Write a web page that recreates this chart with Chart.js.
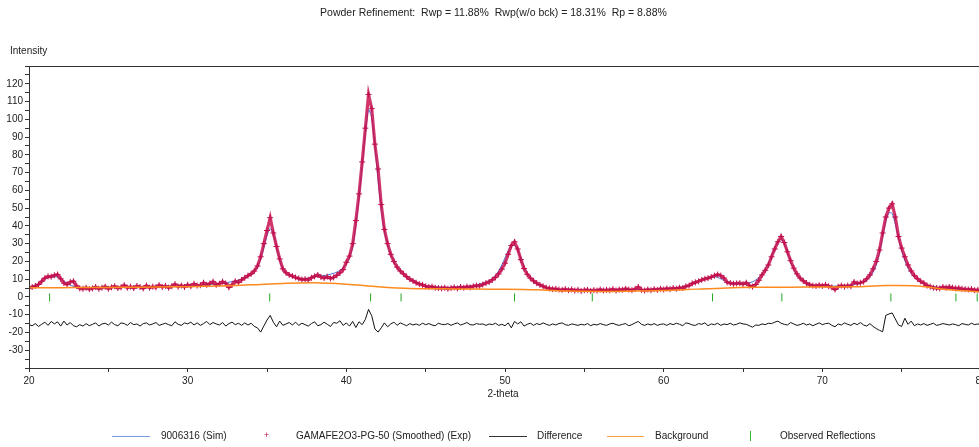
<!DOCTYPE html>
<html>
<head>
<meta charset="utf-8">
<script src="https://cdn.jsdelivr.net/npm/chart.js@4/dist/chart.umd.min.js"></script>
<style>
  html, body { margin: 0; padding: 0; background: #fff; overflow: hidden; }
  #wrap { position: relative; width: 979px; height: 447px; overflow: hidden; font-family: "Liberation Sans", Arial, sans-serif; color: #222; }
  #plot { position: absolute; left: 0; top: 0; }
  .txt { position: absolute; font-size: 10px; white-space: nowrap; line-height: 12px; }
  .leg-line { position: absolute; height: 0; border-top: 1.5px solid; }
</style>
</head>
<body>
<div id="wrap">
  <canvas id="plot" width="1000" height="447"></canvas>
  <div class="txt" id="title" style="left:0;width:987px;text-align:center;top:6px;font-size:10.5px">Powder Refinement:&nbsp; Rwp = 11.88%&nbsp; Rwp(w/o bck) = 18.31%&nbsp; Rp = 8.88%</div>
  <div class="txt" style="left:10px;top:45px">Intensity</div>
  <div class="txt" style="left:0;width:1006px;text-align:center;top:388px">2-theta</div>
  <div id="legend"></div>
</div>
<script>
// 2-theta sampling of the pattern (deg)
const thetaStart = 20, thetaStep = 0.2;

// observed (smoothed) intensities, 20.0 .. 80.0 every 0.2 deg
const expVals = [
  5.0, 5.6, 6.2, 7.0, 8.8, 10.6, 11.6, 11.4, 12.2, 12.6,
  10.2, 7.8, 7.0, 8.4, 8.8, 6.2, 4.8, 4.6, 5.2, 4.4,
  4.8, 5.6, 4.6, 5.2, 5.8, 4.6, 5.4, 6.0, 5.0, 5.4,
  6.6, 5.2, 5.8, 5.0, 6.2, 5.6, 4.8, 6.4, 5.2, 5.8,
  5.4, 6.6, 5.6, 6.2, 5.2, 6.0, 7.2, 5.8, 6.4, 5.6,
  6.8, 6.0, 7.4, 6.4, 6.6, 8.0, 6.8, 7.6, 8.6, 6.8,
  7.4, 8.6, 7.6, 5.4, 6.8, 8.8, 8.2, 9.6, 10.8, 12.0,
  13.0, 14.6, 17.4, 22.6, 30.0, 37.4, 44.6, 36.0, 28.4, 21.4,
  15.8, 13.6, 12.4, 11.8, 11.0, 10.4, 9.8, 10.0, 9.6, 10.8,
  11.6, 12.4, 11.2, 10.6, 11.4, 10.4, 11.0, 12.2, 13.6, 15.4,
  19.5, 23.0, 30.0, 43.0, 58.0, 76.0, 95.0, 114.0, 106.0, 86.0,
  72.0, 52.0, 38.0, 30.0, 24.0, 20.0, 16.8, 14.6, 13.0, 11.4,
  10.0, 9.0, 8.0, 7.2, 6.8, 6.0, 5.6, 5.8, 5.2, 5.0,
  4.8, 5.2, 4.6, 5.0, 5.4, 4.8, 5.6, 5.2, 5.8, 5.4,
  6.0, 6.4, 6.2, 7.0, 7.8, 8.4, 9.6, 11.0, 13.0, 15.6,
  19.0, 24.0, 29.0, 31.0, 27.0, 21.0, 16.0, 12.8, 10.6, 9.0,
  7.8, 6.8, 6.0, 5.2, 4.8, 4.4, 4.6, 4.2, 4.0, 4.4,
  3.8, 4.2, 3.6, 4.0, 3.4, 3.8, 4.0, 3.4, 3.8, 3.6,
  4.2, 3.6, 4.0, 3.8, 4.4, 3.6, 4.2, 4.0, 4.6, 4.2,
  3.8, 4.4, 5.6, 4.0, 3.6, 4.2, 3.8, 4.4, 4.0, 4.6,
  4.2, 4.8, 4.4, 5.0, 4.6, 5.2, 5.0, 6.0, 6.4, 7.6,
  8.2, 8.8, 9.6, 10.2, 10.6, 11.2, 12.0, 12.6, 12.0, 10.6,
  8.2, 7.8, 7.4, 7.6, 7.8, 7.2, 8.0, 6.4, 5.8, 7.0,
  9.4, 12.4, 15.0, 18.0, 22.6, 27.0, 31.0, 34.0, 30.6, 25.4,
  20.4, 16.2, 13.0, 10.6, 9.0, 7.8, 6.8, 6.4, 6.2, 6.6,
  6.2, 6.8, 6.0, 5.4, 4.2, 5.8, 6.4, 5.8, 6.4, 6.0,
  8.4, 7.6, 8.0, 8.6, 10.2, 12.4, 15.8, 20.0, 26.4, 36.0,
  45.0, 50.0, 52.4, 45.0, 34.0, 27.5, 22.6, 18.0, 14.6, 12.0,
  10.2, 8.8, 7.8, 6.4, 5.8, 5.2, 5.0, 4.8, 5.6, 5.2,
  5.6, 5.2, 4.8, 5.0, 4.6, 4.4, 4.2, 4.4, 3.8, 4.0,
  3.6
];

// calculated pattern (9006316), same grid
const simVals = [
  5.4, 5.6, 6.2, 7.4, 8.8, 10.0, 10.8, 11.2, 11.4, 11.2,
  10.4, 9.0, 7.6, 6.6, 6.0, 5.6, 5.4, 5.3, 5.3, 5.3,
  5.3, 5.3, 5.3, 5.3, 5.3, 5.3, 5.3, 5.3, 5.3, 5.3,
  5.4, 5.4, 5.5, 5.5, 5.5, 5.5, 5.6, 5.6, 5.6, 5.6,
  5.7, 5.7, 5.8, 5.8, 5.9, 5.9, 6.0, 6.0, 6.1, 6.2,
  6.3, 6.4, 6.5, 6.6, 6.7, 6.8, 6.9, 7.0, 7.2, 7.4,
  7.6, 7.8, 8.0, 8.3, 8.6, 9.0, 9.5, 10.0, 10.8, 11.8,
  13.0, 14.6, 17.0, 21.0, 27.5, 34.5, 38.5, 35.0, 27.5, 20.5,
  16.0, 13.4, 12.0, 11.2, 10.7, 10.4, 10.3, 10.4, 10.6, 10.9,
  11.2, 11.5, 11.8, 12.1, 12.4, 12.8, 13.3, 14.0, 15.0, 16.5,
  18.6, 22.0, 28.0, 40.0, 56.0, 74.0, 92.0, 105.5, 101.0, 85.0,
  66.0, 49.0, 37.0, 29.0, 23.5, 19.6, 16.6, 14.2, 12.4, 11.0,
  9.8, 8.8, 8.0, 7.4, 6.9, 6.5, 6.2, 6.0, 5.8, 5.6,
  5.5, 5.4, 5.4, 5.4, 5.5, 5.6, 5.7, 5.8, 6.0, 6.2,
  6.5, 6.8, 7.2, 7.7, 8.4, 9.3, 10.5, 12.2, 14.6, 18.0,
  22.0, 26.0, 28.8, 29.0, 26.4, 21.8, 17.0, 13.4, 10.8, 9.0,
  7.6, 6.6, 5.9, 5.4, 5.0, 4.7, 4.5, 4.3, 4.2, 4.1,
  4.0, 3.9, 3.8, 3.7, 3.7, 3.7, 3.7, 3.7, 3.7, 3.7,
  3.7, 3.7, 3.7, 3.8, 3.8, 3.8, 3.9, 3.9, 3.9, 4.0,
  4.0, 4.0, 4.1, 4.1, 4.1, 4.2, 4.2, 4.3, 4.3, 4.4,
  4.5, 4.6, 4.7, 4.8, 5.0, 5.2, 5.5, 5.9, 6.4, 7.1,
  7.9, 8.7, 9.5, 10.3, 10.9, 11.3, 11.4, 11.0, 10.2, 9.3,
  8.5, 7.9, 7.5, 7.3, 7.2, 7.3, 7.5, 7.9, 8.5, 9.5,
  11.0, 13.0, 15.6, 19.0, 23.0, 27.4, 31.0, 32.4, 30.0, 25.0,
  19.8, 15.6, 12.4, 10.2, 8.8, 7.8, 7.2, 6.8, 6.5, 6.3,
  6.2, 6.1, 6.1, 6.1, 6.1, 6.1, 6.2, 6.3, 6.5, 6.7,
  7.0, 7.4, 7.9, 8.6, 9.6, 11.2, 13.8, 18.0, 24.6, 33.6,
  42.4, 47.4, 47.0, 41.0, 33.0, 26.0, 20.4, 16.2, 13.2, 11.0,
  9.4, 8.2, 7.3, 6.6, 6.1, 5.8, 5.5, 5.3, 5.1, 5.0,
  4.8, 4.6, 4.5, 4.4, 4.3, 4.2, 4.1, 4.0, 3.9, 3.9,
  3.8
];

// difference curve (offset), same grid
const diffVals = [
  -15.6, -16.2, -15.0, -16.6, -15.4, -14.2, -16.0, -13.8, -15.2, -14.0,
  -16.4, -13.6, -15.8, -14.4, -16.2, -16.8, -15.6, -16.4, -15.0, -16.2,
  -15.4, -14.6, -16.4, -15.2, -14.8, -15.8, -14.2, -15.6, -16.2, -14.6,
  -15.0, -16.0, -14.4, -15.6, -15.2, -16.4, -15.0, -14.6, -15.8, -15.2,
  -14.4, -16.0, -15.4, -14.8, -15.6, -16.2, -14.0, -15.4, -16.0, -14.6,
  -15.2, -14.2, -15.8, -14.6, -16.0, -15.0, -13.8, -15.6, -14.4, -15.2,
  -15.8, -14.4, -16.4, -15.0, -14.2, -15.6, -14.8, -16.0, -14.6, -15.8,
  -14.8, -16.6, -17.4, -19.8, -16.4, -13.0, -10.4, -14.2, -16.8, -13.6,
  -16.0, -15.2, -14.4, -15.8, -14.2, -16.0, -14.8, -15.6, -16.4, -15.0,
  -14.0, -16.2, -15.6, -14.2, -15.4, -16.6, -14.4, -14.8, -13.4, -16.0,
  -14.6, -16.4, -13.8, -17.2, -14.0, -15.6, -12.6, -7.0, -10.6, -18.0,
  -19.8, -17.4, -14.6, -16.8, -15.2, -14.2, -16.0, -14.6, -15.4, -16.2,
  -15.0, -15.8, -15.2, -16.0, -14.8, -15.6, -15.0, -15.8, -16.2, -14.8,
  -15.4, -15.6, -15.0, -16.0, -15.2, -14.6, -15.8, -15.2, -14.4, -15.6,
  -15.8, -15.0, -15.4, -15.2, -16.0, -15.2, -15.6, -14.8, -16.0, -15.4,
  -16.2, -14.6, -17.4, -13.8, -15.2, -14.0, -16.4, -15.4, -14.8, -16.0,
  -15.0, -15.6, -14.6, -15.4, -16.0, -15.2, -15.8, -15.0, -14.6, -15.6,
  -16.0, -15.2, -15.6, -16.0, -15.4, -15.8, -15.0, -16.2, -15.4, -15.8,
  -15.0, -15.6, -16.0, -15.2, -14.8, -15.6, -16.0, -15.4, -15.0, -16.2,
  -15.6, -14.6, -13.8, -15.4, -16.0, -15.2, -15.8, -15.0, -16.0, -15.4,
  -15.2, -16.0, -15.0, -15.6, -14.8, -15.4, -16.2, -14.6, -15.0, -15.8,
  -16.0, -15.0, -15.4, -14.6, -16.2, -15.2, -15.6, -14.8, -16.0, -15.2,
  -15.6, -14.8, -15.8, -15.4, -14.6, -15.2, -15.4, -16.2, -17.0, -15.8,
  -16.0, -15.2, -15.6, -14.8, -15.0, -14.2, -13.6, -14.8, -15.4, -15.8,
  -14.4, -15.2, -16.0, -15.6, -14.8, -15.8, -15.2, -16.2, -15.4, -14.6,
  -15.6, -15.0, -14.8, -16.0, -16.8, -15.2, -15.8, -14.6, -15.4, -16.0,
  -14.8, -15.6, -14.4, -15.8, -16.4, -15.0, -16.6, -17.8, -18.8, -19.6,
  -10.4, -9.6, -9.0, -12.4, -15.8, -16.6, -12.0, -15.4, -13.6, -16.2,
  -15.2, -15.8, -15.0, -16.0, -15.4, -14.8, -16.0, -15.6, -15.0, -15.4,
  -15.8, -15.2, -15.6, -16.2, -15.0, -15.4, -15.8, -14.8, -15.6, -15.2,
  -15.6
];

// background, every 2 deg
const bkgTheta = [20, 22, 24, 26, 28, 30, 32, 34, 36, 38, 40, 42, 44, 46, 48, 50, 52, 54, 56, 58, 60, 62, 64, 66, 68, 70, 72, 74, 76, 78, 80];
const bkgVals = [5.2, 5.2, 5.3, 5.4, 5.6, 5.8, 6.2, 6.8, 7.6, 8.0, 7.2, 5.8, 4.8, 4.6, 4.4, 4.3, 4.0, 3.3, 3.1, 3.3, 3.6, 4.4, 5.1, 5.4, 5.5, 5.6, 5.7, 6.4, 6.2, 4.0, 2.8];

// observed reflection positions
const reflTheta = [21.3, 35.17, 41.53, 43.45, 50.6, 55.5, 63.08, 67.45, 74.32, 78.42, 79.76];

const C = { sim: "#3f6fd8", exp: "#c0104c", expBand: "rgba(200,18,82,0.85)", diff: "#111111", bkg: "#ff8a1e", refl: "#22aa22", axis: "#333333" };

const grid = (vals) => vals.map((v, i) => ({ x: thetaStart + i * thetaStep, y: v }));

const frame = {
  id: "frame",
  afterDraw(chart) {
    const { ctx, chartArea: a } = chart;
    ctx.save(); ctx.strokeStyle = C.axis; ctx.lineWidth = 1;
    ctx.strokeRect(Math.round(a.left) + 0.5, Math.round(a.top) + 0.5, Math.round(a.right - a.left), Math.round(a.bottom - a.top));
    ctx.restore();
  }
};

new Chart(document.getElementById("plot"), {
  type: "scatter",
  data: {
    datasets: [
      { label: "Observed Reflections", data: reflTheta.map(x => ({ x, y: -0.3 })), pointStyle: "line", rotation: 90, radius: 4, borderColor: C.refl, borderWidth: 1, showLine: false, order: 0 },
      { label: "Difference", data: grid(diffVals), showLine: true, borderColor: C.diff, borderWidth: 1, pointRadius: 0, order: 1 },
      { label: "Background", data: bkgTheta.map((x, i) => ({ x, y: bkgVals[i] })), showLine: true, borderColor: C.bkg, borderWidth: 1.5, pointRadius: 0, tension: 0.3, order: 2 },
      { label: "GAMAFE2O3-PG-50 (Smoothed) (Exp)", data: grid(expVals), showLine: true, borderColor: C.expBand, borderWidth: 3.2,
        pointStyle: "cross", pointRadius: 3, pointBorderColor: C.exp, pointBorderWidth: 1, order: 3 },
      { label: "9006316 (Sim)", data: grid(simVals), showLine: true, borderColor: C.sim, borderWidth: 1, pointRadius: 0, tension: 0.2, order: 4 }
    ]
  },
  options: {
    responsive: false, animation: false, devicePixelRatio: 1,
    layout: { padding: { top: 66, left: 0, right: 19, bottom: 59 } },
    plugins: { legend: { display: false }, tooltip: { enabled: false }, title: { display: false } },
    scales: {
      x: {
        type: "linear", min: 20, max: 80,
        afterFit: s => { s.height = 20 },
        grid: { drawOnChartArea: false, tickLength: 4, color: C.axis },
        border: { color: C.axis },
        ticks: { stepSize: 5, padding: 3, color: "#222", font: { family: "Liberation Sans", size: 10 }, maxRotation: 0, autoSkip: false, callback: v => v % 10 === 0 ? v : "" }
      },
      y: {
        min: -40, max: 130,
        afterFit: s => { s.width = 29 },
        grid: { drawOnChartArea: false, tickLength: 4, color: C.axis },
        border: { color: C.axis },
        ticks: { stepSize: 5, padding: 2, color: "#222", font: { family: "Liberation Sans", size: 10 }, autoSkip: false, callback: v => (v % 10 === 0 && v >= -30 && v <= 120) ? v : "" }
      }
    }
  },
  plugins: [frame]
});

// legend row under the axis
const legendItems = [
  { kind: "line", color: "#7b9be3", x0: 112, x1: 150, textX: 161, text: "9006316 (Sim)" },
  { kind: "cross", color: C.exp, x0: 267, textX: 296, text: "GAMAFE2O3-PG-50 (Smoothed) (Exp)" },
  { kind: "line", color: "#333", x0: 489, x1: 527, textX: 537, text: "Difference" },
  { kind: "line", color: "#ffa040", x0: 607, x1: 644, textX: 655, text: "Background" },
  { kind: "bar", color: "#2db82d", x0: 750, textX: 780, text: "Observed Reflections" }
];
const lg = document.getElementById("legend");
lg.innerHTML = legendItems.map(it => {
  let sym = "";
  if (it.kind === "line") sym = `<div class="leg-line" style="left:${it.x0}px;width:${it.x1 - it.x0}px;top:436px;border-color:${it.color}"></div>`;
  if (it.kind === "cross") sym = `<div class="txt" style="left:${it.x0 - 3}px;top:429px;color:${it.color};font-size:9px">+</div>`;
  if (it.kind === "bar") sym = `<div style="position:absolute;left:${it.x0}px;top:431px;width:1px;height:10px;background:${it.color}"></div>`;
  return sym + `<div class="txt" style="left:${it.textX}px;top:430px">${it.text}</div>`;
}).join("");
</script>
</body>
</html>
